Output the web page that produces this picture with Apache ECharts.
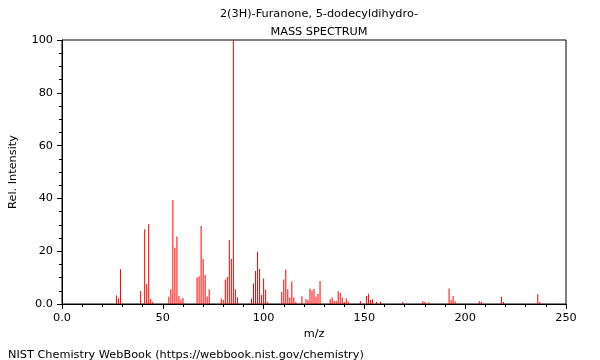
<!DOCTYPE html>
<html>
<head>
<meta charset="utf-8">
<script src="https://cdn.jsdelivr.net/npm/echarts@6/dist/echarts.min.js"></script>
<style>html,body{margin:0;padding:0;background:#fff}#c{width:600px;height:360px}</style>
</head>
<body>
<div id="c"></div>
<script>
const titleLine1 = "2(3H)-Furanone, 5-dodecyldihydro-";
const titleLine2 = "MASS SPECTRUM";
const footer = "NIST Chemistry WebBook (https://webbook.nist.gov/chemistry)";
const mz = [27,28,29,39,41,42,43,44,45,53,54,55,56,57,58,59,60,67,68,69,70,71,72,73,79,80,81,82,83,84,85,86,87,94,95,96,97,98,99,100,101,102,109,110,111,112,113,114,115,116,119,121,122,123,124,125,126,127,128,133,134,135,136,137,138,139,140,141,142,148,151,152,153,154,156,158,169,179,180,182,192,193,194,195,207,208,218,219,236,237];
const intensity = [3.3,2.2,13.2,4.9,28.3,7.6,30.3,1.9,0.8,2.7,5.6,39.4,21.3,25.6,3.0,1.6,2.3,10.0,10.5,29.5,17.0,11.0,2.8,5.6,2.1,1.5,9.3,10.2,24.2,17.0,100,5.6,2.6,2.1,7.8,12.5,19.8,13.3,3.4,9.7,5.5,0.8,4.5,9.3,13.1,5.6,2.5,8.5,2.5,0.8,2.9,1.9,1.5,5.9,5.1,5.7,2.8,3.8,8.7,1.8,2.5,1.1,1.1,4.8,4.2,2.5,0.8,2.1,0.9,1.1,3.0,3.9,1.5,1.8,0.8,0.9,0.8,1.0,0.8,0.6,5.9,1.5,3.0,1.0,1.0,0.8,2.7,0.8,3.8,0.8];
const xTicks = [0,50,100,150,200,250];
const yTicks = [0,20,40,60,80,100];

const chart = echarts.init(document.getElementById('c'), null, {renderer:'canvas'});
const font = 'DejaVu Sans';
const fs = 11.3;
const fmt = v => v === 0 ? '0.0' : String(v);
chart.setOption({
  animation:false,
  backgroundColor:'#fff',
  textStyle:{fontFamily:font},
  title:[
    {text:titleLine1, left:314, top:4, textAlign:'center', textStyle:{fontFamily:font,fontSize:fs,fontWeight:'normal',color:'#000'}},
    {text:titleLine2, left:314, top:22, textAlign:'center', textStyle:{fontFamily:font,fontSize:fs,fontWeight:'normal',color:'#000'}},
    {text:footer, left:3, top:345, textStyle:{fontFamily:font,fontSize:fs,fontWeight:'normal',color:'#000'}}
  ],
  grid:{left:62,right:34,top:40,bottom:56,show:true,borderColor:'#000',borderWidth:1,backgroundColor:'transparent',containLabel:false,outerBoundsMode:'none'},
  xAxis:{type:'value',min:0,max:250,interval:50,
    name:'m/z',nameLocation:'middle',nameGap:25,nameTextStyle:{fontFamily:font,fontSize:fs,color:'#000'},
    axisLine:{show:true,lineStyle:{color:'#000',width:1}},
    axisTick:{show:true,length:5,lineStyle:{color:'#000'}},
    minorTick:{show:true,splitNumber:5,length:3,lineStyle:{color:'#000'}},
    axisLabel:{fontFamily:font,fontSize:fs,color:'#000',margin:9,formatter:fmt},
    splitLine:{show:false}},
  yAxis:{type:'value',min:0,max:100,interval:20,
    name:'Rel. Intensity',nameLocation:'middle',nameGap:43,nameRotate:90,nameTextStyle:{fontFamily:font,fontSize:fs,color:'#000'},
    axisLine:{show:true,lineStyle:{color:'#000',width:1}},
    axisTick:{show:true,length:5,lineStyle:{color:'#000'}},
    minorTick:{show:true,splitNumber:4,length:3,lineStyle:{color:'#000'}},
    axisLabel:{fontFamily:font,fontSize:fs,color:'#000',margin:9,formatter:fmt},
    splitLine:{show:false}},
  series:[{type:'bar',barWidth:1,data:mz.map((m,i)=>[m,intensity[i]]),
    itemStyle:{color:'#ff0000'},silent:true}]
});
</script>
</body>
</html>
